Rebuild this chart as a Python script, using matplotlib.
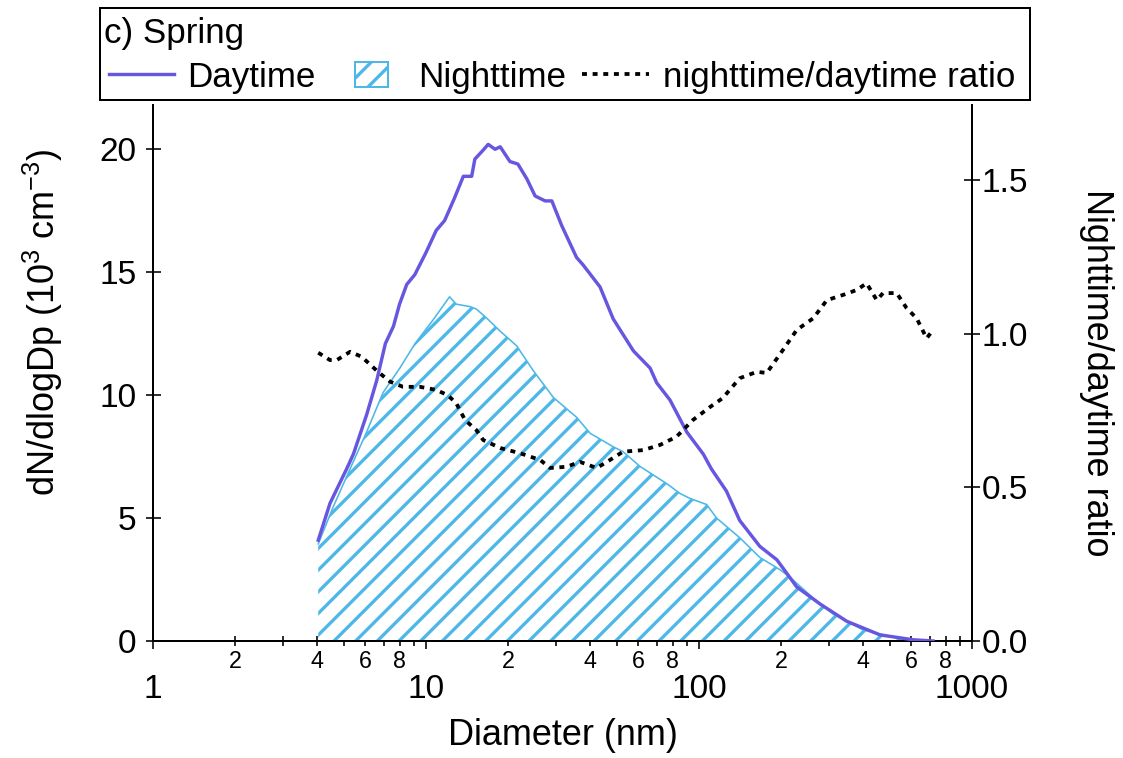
import numpy as np
import matplotlib
matplotlib.use("Agg")
import matplotlib.pyplot as plt
from matplotlib.patches import Rectangle
from matplotlib.lines import Line2D
from matplotlib.ticker import LogLocator, FixedLocator, FuncFormatter

# daytime size distribution (nm, 10^3 cm^-3)
diam_day = [4.03, 4.45, 5.12, 5.42, 6.06, 6.6, 7.1, 7.6, 8.0, 8.5,
            9.1, 10.0, 10.9, 11.7, 12.7, 13.7, 14.7, 15.1, 16.0, 16.9,
            17.9, 18.7, 20.3, 21.7, 23.4, 25.1, 27.3, 28.9, 31.4, 35.6,
            37.6, 43.4, 48.5, 57.5, 66.2, 70.0, 78.3, 90.2, 103.7, 111,
            126, 141, 167, 193, 228, 278, 348, 460, 608, 720]
day = [4.1, 5.6, 7.0, 7.6, 9.2, 10.6, 12.1, 12.8, 13.7, 14.5,
       14.9, 15.8, 16.7, 17.1, 18.0, 18.9, 18.9, 19.6, 19.9, 20.2,
       20.0, 20.1, 19.5, 19.4, 18.8, 18.1, 17.9, 17.9, 16.9, 15.6,
       15.3, 14.4, 13.1, 11.8, 11.1, 10.5, 9.8, 8.5, 7.6, 7.0,
       6.1, 4.9, 3.85, 3.3, 2.2, 1.5, 0.8, 0.25, 0.05, 0.0]

# nighttime size distribution
diam_night = [4.03, 4.57, 5.27, 6.06, 6.96, 8.02, 9.12, 10.6, 12.2, 12.9,
              14.5, 15.3, 16.8, 18.7, 21.5, 24.7, 29.3, 35.6, 39.9, 48.5,
              52.7, 60.8, 76.2, 85.2, 92.6, 106.7, 116, 141, 167, 198,
              215, 262, 310, 399, 530, 682, 720]
night = [3.95, 5.45, 7.0, 8.5, 10.1, 11.1, 12.1, 13.05, 14.0, 13.7,
         13.6, 13.5, 13.1, 12.6, 12.0, 11.0, 9.9, 9.1, 8.45, 7.9,
         7.7, 7.1, 6.4, 6.0, 5.8, 5.55, 5.0, 4.2, 3.4, 2.9,
         2.6, 1.75, 1.1, 0.45, 0.12, 0.0, 0.0]

# nighttime/daytime ratio
diam_ratio = [4.03, 4.45, 4.71, 5.27, 5.81, 6.67, 7.38, 8.24, 9.51, 10.9,
              12.0, 12.9, 13.9, 15.3, 16.2, 18.7, 22.1, 26.2, 28.5, 32.8,
              36.6, 42.2, 47.2, 52.7, 62.4, 72, 82.8, 95, 110, 122,
              141, 163, 177, 203, 228, 262, 294, 337, 378, 411,
              448, 472, 530, 576, 627, 682, 720]
ratio = [0.938, 0.914, 0.914, 0.941, 0.925, 0.876, 0.844, 0.827, 0.827, 0.817,
         0.80, 0.774, 0.719, 0.686, 0.654, 0.628, 0.611, 0.589, 0.563, 0.567,
         0.583, 0.563, 0.589, 0.616, 0.621, 0.638, 0.665, 0.719, 0.762, 0.79,
         0.855, 0.876, 0.872, 0.947, 1.012, 1.05, 1.109, 1.126, 1.142, 1.164,
         1.109, 1.132, 1.132, 1.083, 1.05, 0.985, 1.012]

DPI = 130
W, H = 1123, 758


def pt(px):
    return px * 72.0 / DPI


purple = "#6656e0"
cyan = "#4db8e8"

plt.rcParams['font.family'] = ['Liberation Sans', 'DejaVu Sans']
plt.rcParams['mathtext.fontset'] = 'custom'
plt.rcParams['mathtext.rm'] = 'Liberation Sans'
plt.rcParams['mathtext.it'] = 'Liberation Sans:italic'
plt.rcParams['mathtext.default'] = 'regular'
plt.rcParams['hatch.linewidth'] = pt(3.3)

fig = plt.figure(figsize=(W / DPI, H / DPI), dpi=DPI)
ax = fig.add_axes([153 / W, (H - 641) / H, 819 / W, 536 / H])
ax2 = ax.twinx()

ax.fill_between(diam_night, night, 0, facecolor="white", edgecolor=cyan,
                hatch="//", linewidth=0, zorder=2)
ax.plot(diam_night, night, color=cyan, lw=pt(1.6), zorder=2.2)
ax.plot(diam_day, day, color=purple, lw=pt(3.4), zorder=3)
ax2.plot(diam_ratio, ratio, color="black", lw=pt(3.8),
         linestyle=(0, (1.3, 1.5)))

ax.set_xscale("log")
ax.set_xlim(1, 1000)
ax.set_ylim(0, 21.8)
ax2.set_ylim(0, 1.744)

ax.xaxis.set_major_locator(FixedLocator([1, 10, 100, 1000]))
ax.xaxis.set_minor_locator(LogLocator(base=10, subs=np.arange(2, 10), numticks=20))
ax.xaxis.set_major_formatter(FuncFormatter(lambda v, p: f"{v:g}"))


def minor_fmt(v, p):
    m = int(round(v / 10 ** np.floor(np.log10(v) + 1e-9)))
    return str(m) if m in (2, 4, 6, 8) else ""


ax.xaxis.set_minor_formatter(FuncFormatter(minor_fmt))
ax.set_yticks([0, 5, 10, 15, 20])
ax2.set_yticks([0, 0.5, 1.0, 1.5])
ax2.yaxis.set_major_formatter(FuncFormatter(lambda v, p: f"{v:.1f}"))

for s in ["top", "right"]:
    ax.spines[s].set_visible(False)
for s in ["top", "left", "bottom"]:
    ax2.spines[s].set_visible(False)
for s in ["left", "bottom"]:
    ax.spines[s].set_linewidth(pt(2))
ax2.spines["right"].set_linewidth(pt(2))

ax.tick_params(axis="x", which="major", direction="inout", length=pt(15),
               width=pt(1.6), pad=pt(25), labelsize=pt(33.5))
ax.tick_params(axis="x", which="minor", direction="inout", length=pt(10),
               width=pt(1.6), pad=pt(4.5), labelsize=pt(23.3))
ax.tick_params(axis="y", direction="inout", length=pt(15), width=pt(1.6),
               pad=pt(9), labelsize=pt(33.5))
ax2.tick_params(axis="y", direction="inout", length=pt(16), width=pt(1.6),
                pad=pt(2), labelsize=pt(33.5))

ax.set_xlabel("Diameter (nm)", fontsize=pt(36))
ax.xaxis.set_label_coords(0.5, -0.143)
ax.set_ylabel("dN/dlogDp (10$^{3}$ cm$^{-3}$)", fontsize=pt(36))
ax.yaxis.set_label_coords(-0.107, 0.595)
ax2.set_ylabel("Nighttime/daytime ratio", fontsize=pt(36), rotation=270,
               va="center", ha="center")
ax2.yaxis.set_label_coords((1097 - 153) / 819, 0.5)

# legend box
fig.add_artist(Rectangle((100 / W, 1 - 100 / H), 930 / W, 92 / H,
                         transform=fig.transFigure, fill=False,
                         lw=pt(2), ec="black"))
fig.text(104 / W, 1 - 33 / H, "c) Spring", va="center", ha="left",
         fontsize=pt(35))

fs = pt(35)
row_y = 1 - 77 / H
day_h = Line2D([], [], color=purple, lw=pt(3.4))
night_h = Rectangle((0, 0), 1, 1, facecolor="white", edgecolor=cyan,
                    hatch="//", lw=pt(2))
ratio_h = Line2D([], [], color="black", lw=pt(3.8), linestyle=(0, (1.3, 1.5)))
fig.legend([day_h], ["Daytime"], loc="center left",
           bbox_to_anchor=(109 / W, row_y), frameon=False, borderpad=0,
           borderaxespad=0, handlelength=1.86, handletextpad=0.38,
           fontsize=fs)
fig.legend([night_h], ["Nighttime"], loc="center left",
           bbox_to_anchor=(355 / W, row_y), frameon=False, borderpad=0,
           borderaxespad=0, handlelength=0.94, handleheight=0.71,
           handletextpad=0.85, fontsize=fs)
fig.legend([ratio_h], ["nighttime/daytime ratio"], loc="center left",
           bbox_to_anchor=(582 / W, row_y), frameon=False, borderpad=0,
           borderaxespad=0, handlelength=1.9, handletextpad=0.42,
           fontsize=fs)

fig.savefig("out.png", dpi=DPI)
